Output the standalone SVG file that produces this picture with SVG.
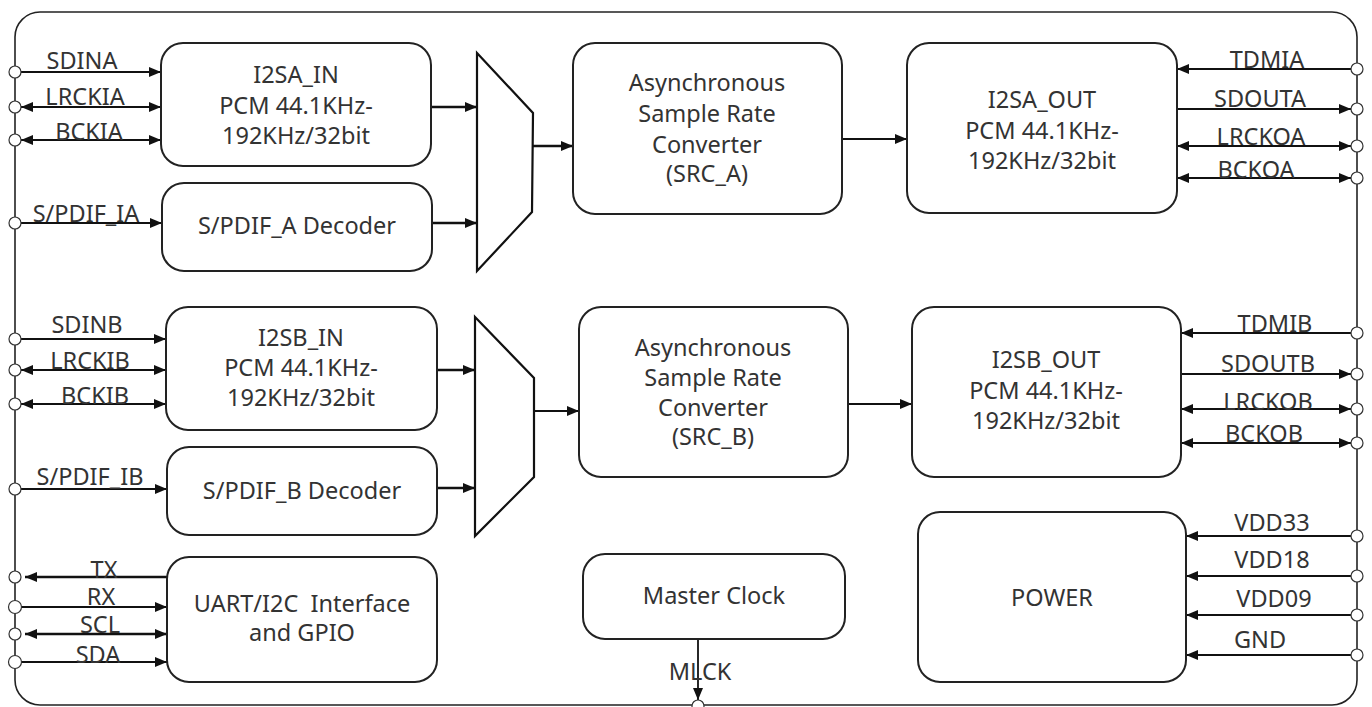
<svg xmlns="http://www.w3.org/2000/svg" width="1372" height="707" viewBox="0 0 1372 707">
<defs>
<marker id="arr" viewBox="0 0 12 10" refX="12" refY="5" markerWidth="12" markerHeight="10" markerUnits="userSpaceOnUse" orient="auto-start-reverse">
<path d="M0,0 L12,5 L0,10 z" fill="#111"/>
</marker>
<style>
.box{fill:#fff;stroke:#222;stroke-width:2}
.mux{fill:#fff;stroke:#111;stroke-width:2.2}
.t{font-family:"Noto Sans","Liberation Sans",Arial,sans-serif;font-size:23.5px;fill:#333;text-anchor:middle}
.c{stroke:#111;stroke-width:1.8;fill:none}
.w{stroke:#111;stroke-width:2.4;fill:none}
.e{marker-end:url(#arr)}
.b{marker-start:url(#arr);marker-end:url(#arr)}
.pin{fill:#fff;stroke:#333;stroke-width:1.2}
</style>
</defs>
<rect width="1372" height="707" fill="#fff"/>
<rect id="chip" x="15" y="12" width="1342" height="693" rx="25" ry="25" fill="none" stroke="#222" stroke-width="1.6"/>

<g id="connectors">
<line class="c e" x1="21" y1="72" x2="161" y2="72"/>
<line class="c b" x1="21" y1="107" x2="161" y2="107"/>
<line class="c b" x1="21" y1="140" x2="161" y2="140"/>
<line class="c e" x1="21" y1="223" x2="162" y2="223"/>
<line class="c e" x1="21" y1="339" x2="166" y2="339"/>
<line class="c b" x1="21" y1="370" x2="166" y2="370"/>
<line class="c b" x1="21" y1="404" x2="166" y2="404"/>
<line class="c e" x1="21" y1="489" x2="167" y2="489"/>
<line class="w e" x1="167" y1="577" x2="25" y2="577"/>
<line class="c e" x1="21" y1="607" x2="167" y2="607"/>
<line class="w b" x1="25" y1="634" x2="167" y2="634"/>
<line class="c e" x1="21" y1="662" x2="167" y2="662"/>

<line class="w e" x1="431" y1="107" x2="477" y2="107"/>
<line class="w e" x1="432" y1="223" x2="477" y2="223"/>
<line class="w e" x1="533" y1="146" x2="573" y2="146"/>
<line class="c e" x1="842" y1="139" x2="907" y2="139"/>
<line class="w e" x1="437" y1="370" x2="475" y2="370"/>
<line class="w e" x1="437" y1="488" x2="475" y2="488"/>
<line class="c e" x1="534" y1="411" x2="579" y2="411"/>
<line class="c e" x1="848" y1="404" x2="912" y2="404"/>

<line class="c e" x1="1351" y1="69" x2="1177" y2="69"/>
<line class="c e" x1="1177" y1="109" x2="1351" y2="109"/>
<line class="c b" x1="1177" y1="146" x2="1351" y2="146"/>
<line class="c b" x1="1177" y1="178" x2="1351" y2="178"/>
<line class="c e" x1="1351" y1="333" x2="1181" y2="333"/>
<line class="c e" x1="1181" y1="374" x2="1351" y2="374"/>
<line class="c b" x1="1181" y1="409" x2="1351" y2="409"/>
<line class="c b" x1="1181" y1="443" x2="1351" y2="443"/>
<line class="c e" x1="1351" y1="536" x2="1186" y2="536"/>
<line class="c e" x1="1351" y1="576" x2="1186" y2="576"/>
<line class="c e" x1="1351" y1="615" x2="1186" y2="615"/>
<line class="c e" x1="1351" y1="655" x2="1186" y2="655"/>
<line class="c e" x1="698" y1="639" x2="698" y2="700"/>
</g>

<g id="pins">
<circle class="pin" cx="15" cy="72" r="6"/>
<circle class="pin" cx="15" cy="107" r="6"/>
<circle class="pin" cx="15" cy="140" r="6"/>
<circle class="pin" cx="15" cy="223" r="6"/>
<circle class="pin" cx="15" cy="339" r="6"/>
<circle class="pin" cx="15" cy="370" r="6"/>
<circle class="pin" cx="15" cy="404" r="6"/>
<circle class="pin" cx="15" cy="489" r="6"/>
<circle class="pin" cx="15" cy="577" r="6"/>
<circle class="pin" cx="15" cy="607" r="6.5" stroke-width="1.8"/>
<circle class="pin" cx="15" cy="634" r="6"/>
<circle class="pin" cx="15" cy="662" r="6.5" stroke-width="1.8"/>
<circle class="pin" cx="1357" cy="69" r="6"/>
<circle class="pin" cx="1357" cy="109" r="6"/>
<circle class="pin" cx="1357" cy="146" r="6"/>
<circle class="pin" cx="1357" cy="178" r="6"/>
<circle class="pin" cx="1357" cy="333" r="6"/>
<circle class="pin" cx="1357" cy="374" r="6"/>
<circle class="pin" cx="1357" cy="409" r="6"/>
<circle class="pin" cx="1357" cy="443" r="6"/>
<circle class="pin" cx="1357" cy="536" r="6"/>
<circle class="pin" cx="1357" cy="576" r="6"/>
<circle class="pin" cx="1357" cy="615" r="6"/>
<circle class="pin" cx="1357" cy="655" r="6"/>
<circle class="pin" cx="698" cy="706" r="6"/>
</g>

<g id="pin-labels">
<text class="t" x="82" y="69">SDINA</text>
<text class="t" x="85" y="105">LRCKIA</text>
<text class="t" x="89" y="140">BCKIA</text>
<text class="t" x="86" y="222">S/PDIF_IA</text>
<text class="t" x="87" y="333">SDINB</text>
<text class="t" x="90" y="369">LRCKIB</text>
<text class="t" x="95" y="404">BCKIB</text>
<text class="t" x="90" y="485">S/PDIF_IB</text>
<text class="t" x="104" y="578">TX</text>
<text class="t" x="101" y="605">RX</text>
<text class="t" x="100" y="633">SCL</text>
<text class="t" x="98" y="663">SDA</text>
<text class="t" x="1267" y="68">TDMIA</text>
<text class="t" x="1260" y="107">SDOUTA</text>
<text class="t" x="1261" y="145">LRCKOA</text>
<text class="t" x="1256" y="178">BCKOA</text>
<text class="t" x="1275" y="332">TDMIB</text>
<text class="t" x="1268" y="372">SDOUTB</text>
<text class="t" x="1268" y="410">LRCKOB</text>
<text class="t" x="1264" y="442">BCKOB</text>
<text class="t" x="1272" y="531">VDD33</text>
<text class="t" x="1272" y="568">VDD18</text>
<text class="t" x="1274" y="607">VDD09</text>
<text class="t" x="1260" y="648">GND</text>
<text class="t" x="700" y="680">MLCK</text>
</g>

<g id="i2sa_in">
<rect class="box" x="161" y="43" width="270" height="123" rx="22"/>
<text class="t" x="296" y="83">I2SA_IN</text>
<text class="t" x="296" y="114">PCM 44.1KHz-</text>
<text class="t" x="296" y="144">192KHz/32bit</text>
</g>
<g id="spdif_a">
<rect class="box" x="162" y="183" width="270" height="88" rx="22"/>
<text class="t" x="297" y="234">S/PDIF_A Decoder</text>
</g>
<g id="mux_a">
<polygon class="mux" points="477,53 533,113 532,212 477,271"/>
</g>
<g id="src_a">
<rect class="box" x="573" y="43" width="269" height="171" rx="22"/>
<text class="t" x="707" y="91">Asynchronous</text>
<text class="t" x="707" y="122">Sample Rate</text>
<text class="t" x="707" y="153">Converter</text>
<text class="t" x="707" y="182">(SRC_A)</text>
</g>
<g id="i2sa_out">
<rect class="box" x="907" y="43" width="270" height="170" rx="22"/>
<text class="t" x="1042" y="108">I2SA_OUT</text>
<text class="t" x="1042" y="139">PCM 44.1KHz-</text>
<text class="t" x="1042" y="169">192KHz/32bit</text>
</g>

<g id="i2sb_in">
<rect class="box" x="166" y="307" width="271" height="123" rx="22"/>
<text class="t" x="301" y="346">I2SB_IN</text>
<text class="t" x="301" y="376">PCM 44.1KHz-</text>
<text class="t" x="301" y="406">192KHz/32bit</text>
</g>
<g id="spdif_b">
<rect class="box" x="167" y="447" width="270" height="88" rx="22"/>
<text class="t" x="302" y="499">S/PDIF_B Decoder</text>
</g>
<g id="mux_b">
<polygon class="mux" points="475,317 534,378 534,477 475,536"/>
</g>
<g id="src_b">
<rect class="box" x="579" y="307" width="269" height="170" rx="22"/>
<text class="t" x="713" y="356">Asynchronous</text>
<text class="t" x="713" y="386">Sample Rate</text>
<text class="t" x="713" y="416">Converter</text>
<text class="t" x="713" y="445">(SRC_B)</text>
</g>
<g id="i2sb_out">
<rect class="box" x="912" y="307" width="269" height="170" rx="22"/>
<text class="t" x="1046" y="368">I2SB_OUT</text>
<text class="t" x="1046" y="399">PCM 44.1KHz-</text>
<text class="t" x="1046" y="429">192KHz/32bit</text>
</g>

<g id="uart">
<rect class="box" x="167" y="557" width="270" height="125" rx="22"/>
<text class="t" x="302" y="612" xml:space="preserve">UART/I2C  Interface</text>
<text class="t" x="302" y="641">and GPIO</text>
</g>
<g id="master_clock">
<rect class="box" x="583" y="554" width="262" height="85" rx="22"/>
<text class="t" x="714" y="604">Master Clock</text>
</g>
<g id="power">
<rect class="box" x="918" y="512" width="268" height="170" rx="22"/>
<text class="t" x="1052" y="606">POWER</text>
</g>
</svg>
